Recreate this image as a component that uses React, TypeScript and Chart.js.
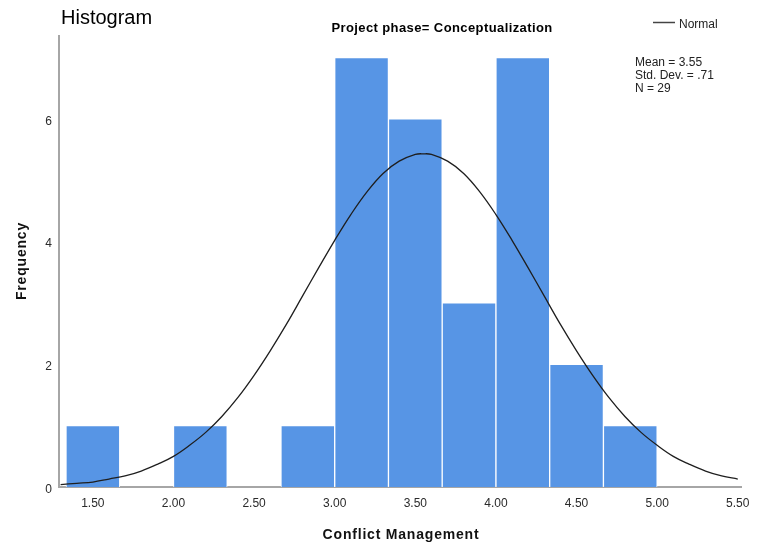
import React, { useEffect, useRef } from "react";
import { Chart, registerables } from "chart.js";

Chart.register(...registerables);

// Histogram bins (midpoints of 1/3-wide bins) and counts
const binMids = [1.5, 1.8333, 2.1667, 2.5, 2.8333, 3.1667, 3.5, 3.8333, 4.1667, 4.5, 4.8333];
const binCounts = [1, 0, 1, 0, 1, 7, 6, 3, 7, 2, 1];

// Normal curve points
const curveX = [1.3, 1.4, 1.5, 1.6, 1.7, 1.8, 1.9, 2.0, 2.1, 2.2, 2.3, 2.4, 2.5, 2.6, 2.7, 2.8, 2.9, 3.0, 3.1, 3.2, 3.3, 3.4, 3.5, 3.55, 3.6, 3.7, 3.8, 3.9, 4.0, 4.1, 4.2, 4.3, 4.4, 4.5, 4.6, 4.7, 4.8, 4.9, 5.0, 5.1, 5.2, 5.3, 5.4, 5.5];
const curveY = [0.04, 0.06, 0.08, 0.13, 0.18, 0.26, 0.37, 0.5, 0.68, 0.89, 1.15, 1.46, 1.82, 2.22, 2.65, 3.11, 3.57, 4.02, 4.44, 4.81, 5.11, 5.31, 5.42, 5.43, 5.42, 5.31, 5.11, 4.81, 4.44, 4.02, 3.57, 3.11, 2.65, 2.22, 1.82, 1.46, 1.15, 0.89, 0.68, 0.5, 0.37, 0.26, 0.18, 0.13];

const xTicks = [1.5, 2.0, 2.5, 3.0, 3.5, 4.0, 4.5, 5.0, 5.5];
const yTicks = [0, 2, 4, 6];

const chartTitle = "Histogram";
const subTitle = "Project phase= Conceptualization";
const legendLabel = "Normal";
const statsLines = ["Mean = 3.55", "Std. Dev. = .71", "N = 29"];
const xTitle = "Conflict Management";
const yTitle = "Frequency";

const FONT = "Arial, 'Liberation Sans', sans-serif";

const textPlugin = {
  id: "textPlugin",
  afterDraw(chart: any) {
    const ctx = chart.ctx as CanvasRenderingContext2D;
    ctx.save();
    ctx.fillStyle = "#000";
    ctx.textBaseline = "alphabetic";
    // Main title
    ctx.textAlign = "left";
    ctx.font = `20px ${FONT}`;
    ctx.fillText(chartTitle, 61, 24);
    // Subtitle
    ctx.font = `bold 13px ${FONT}`;
    (ctx as any).letterSpacing = "0.4px";
    ctx.textAlign = "center";
    ctx.fillText(subTitle, 442, 32);
    (ctx as any).letterSpacing = "0px";
    // Legend
    ctx.strokeStyle = "#444";
    ctx.lineWidth = 1.5;
    ctx.beginPath();
    ctx.moveTo(653, 22.5);
    ctx.lineTo(675, 22.5);
    ctx.stroke();
    ctx.textAlign = "left";
    ctx.font = `12px ${FONT}`;
    ctx.fillStyle = "#222";
    ctx.fillText(legendLabel, 679, 27.5);
    // Stats
    statsLines.forEach((s, i) => ctx.fillText(s, 635, 65.5 + i * 13));
    // Axis titles
    ctx.fillStyle = "#111";
    ctx.font = `bold 14px ${FONT}`;
    (ctx as any).letterSpacing = "0.8px";
    ctx.textAlign = "center";
    ctx.fillText(xTitle, 401, 539);
    ctx.translate(25.5, 261);
    ctx.rotate(-Math.PI / 2);
    ctx.fillText(yTitle, 0, 0);
    ctx.restore();
  },
};

export default function App() {
  const ref = useRef<HTMLCanvasElement | null>(null);
  useEffect(() => {
    if (!ref.current) return;
    const chart = new Chart(ref.current, {
      type: "bar",
      data: {
        datasets: [
          {
            type: "line",
            label: legendLabel,
            data: curveX.map((x, i) => ({ x, y: curveY[i] })),
            borderColor: "#1e1e1e",
            borderWidth: 1.3,
            pointRadius: 0,
            tension: 0.4,
            fill: false,
            order: 0,
          } as any,
          {
            type: "bar",
            label: "Frequency",
            data: binMids.map((x, i) => ({ x, y: binCounts[i] })),
            backgroundColor: "#5795e5",
            borderColor: "rgba(255,255,255,0.9)",
            borderWidth: { top: 1, left: 1, right: 1, bottom: 0 },
            borderSkipped: false,
            barPercentage: 1,
            categoryPercentage: 1,
            grouped: false,
            order: 1,
          } as any,
        ],
      },
      options: {
        responsive: false,
        animation: false,
        events: [],
        layout: { padding: { left: 0, top: 36, right: 19, bottom: 0 } },
        plugins: { legend: { display: false }, tooltip: { enabled: false }, title: { display: false } },
        scales: {
          x: {
            type: "linear",
            min: 1.29,
            max: 5.52,
            offset: false,
            grid: { display: false, drawTicks: false, offset: false },
            border: { display: true, color: "#a6a6a6", width: 2 },
            afterBuildTicks: (s: any) => {
              s.ticks = xTicks.map((v) => ({ value: v }));
            },
            afterFit: (s: any) => {
              s.height = 63;
              s.paddingLeft = 0;
              s.paddingRight = 0;
            },
            ticks: {
              autoSkip: false,
              maxRotation: 0,
              padding: 9,
              color: "#2a2a2a",
              font: { family: FONT, size: 12 },
              callback: (v: any) => Number(v).toFixed(2),
            },
          },
          y: {
            type: "linear",
            min: 0,
            max: 7.35,
            grid: { display: false, drawTicks: false },
            border: { display: true, color: "#a6a6a6", width: 2 },
            afterBuildTicks: (s: any) => {
              s.ticks = yTicks.map((v) => ({ value: v }));
            },
            afterFit: (s: any) => {
              s.width = 59;
              s.paddingTop = 0;
              s.paddingBottom = 0;
            },
            ticks: {
              padding: 7,
              labelOffset: 2.5,
              color: "#2a2a2a",
              font: { family: FONT, size: 12 },
              callback: (v: any) => String(v),
            },
          },
        },
      } as any,
      plugins: [textPlugin],
    });
    return () => chart.destroy();
  }, []);
  return (
    <div style={{ position: "absolute", left: 0, top: 0, width: 760, height: 550, background: "#fff" }}>
      <canvas ref={ref} width={760} height={550} style={{ width: 760, height: 550, display: "block" }} />
    </div>
  );
}
